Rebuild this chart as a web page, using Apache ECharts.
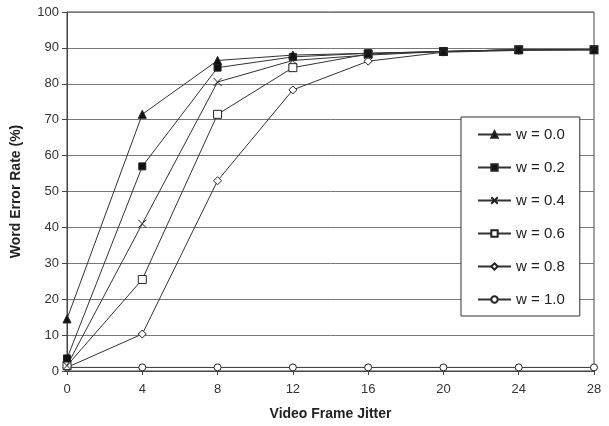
<!DOCTYPE html>
<html><head><meta charset="utf-8">
<script src="https://cdn.jsdelivr.net/npm/echarts@6/dist/echarts.min.js"></script>
<style>html,body{margin:0;padding:0;background:#fff}#c{width:609px;height:426px}</style>
</head><body><div id="c"></div>
<script>
var jitter = [0, 4, 8, 12, 16, 20, 24, 28];
var seriesNames = ['w = 0.0', 'w = 0.2', 'w = 0.4', 'w = 0.6', 'w = 0.8', 'w = 1.0'];
var w00 = [14.5, 71.5, 86.5, 88, 88.5, 89, 89.5, 89.5];
var w02 = [3.5, 57, 84.5, 87.5, 88.5, 89, 89.5, 89.5];
var w04 = [1.5, 41, 80.5, 86.5, 88, 89, 89.5, 89.5];
var w06 = [1.5, 25.5, 71.5, 84.5, 88.3, 89, 89.5, 89.5];
var w08 = [1, 10.3, 53, 78.3, 86.3, 88.8, 89.3, 89.5];
var w10 = [1, 1, 1, 1, 1, 1, 1, 1];
var yTicks = [0, 10, 20, 30, 40, 50, 60, 70, 80, 90, 100];

var allData = [w00, w02, w04, w06, w08, w10];
var symbols = ['triangle', 'rect', 'path://M0,0L10,10M10,0L0,10', 'rect', 'diamond', 'circle'];
var sizes = [8, 7, 8, 8, 8, 7];
var fills = ['#111', '#111', '#fff', '#fff', '#fff', '#fff'];

var series = allData.map(function (arr, i) {
  return {
    name: seriesNames[i],
    type: 'line',
    data: arr.map(function (v, j) { return [jitter[j], v]; }),
    symbol: symbols[i],
    symbolSize: sizes[i],
    showAllSymbol: true,
    lineStyle: { color: '#333', width: 1 },
    itemStyle: { color: fills[i], borderColor: '#222', borderWidth: 1 },
    emphasis: { disabled: true },
    animation: false,
    z: 10 - i
  };
});

var chart = echarts.init(document.getElementById('c'));
chart.setOption({
  animation: false,
  backgroundColor: '#fff',
  grid: { left: 67, right: 15, top: 12, bottom: 52, show: true, borderColor: '#444', borderWidth: 1 },
  xAxis: {
    type: 'value', min: 0, max: 28, interval: 4,
    name: 'Video Frame Jitter', nameLocation: 'middle', nameGap: 36,
    nameTextStyle: { fontFamily: 'Liberation Sans, Arial', fontWeight: 'bold', fontSize: 14, color: '#222' },
    axisLine: { lineStyle: { color: '#444', width: 1 } },
    axisTick: { show: true, length: 4, lineStyle: { color: '#444' } },
    axisLabel: { fontFamily: 'Liberation Sans, Arial', fontSize: 13, color: '#333', margin: 12 },
    splitLine: { show: false }
  },
  yAxis: {
    type: 'value', min: yTicks[0], max: yTicks[yTicks.length - 1], interval: 10,
    name: 'Word Error Rate (%)', nameLocation: 'middle', nameGap: 44,
    nameTextStyle: { fontFamily: 'Liberation Sans, Arial', fontWeight: 'bold', fontSize: 14, color: '#222' },
    axisLine: { show: true, lineStyle: { color: '#444', width: 1 } },
    axisTick: { show: true, length: 5, lineStyle: { color: '#444' } },
    axisLabel: { fontFamily: 'Liberation Sans, Arial', fontSize: 13, color: '#333', margin: 8 },
    splitLine: { show: true, lineStyle: { color: '#777', width: 1 } }
  },
  legend: {
    orient: 'vertical', left: 461, top: 117,
    backgroundColor: '#fff', borderColor: '#333', borderWidth: 1,
    padding: [10, 15, 9, 16],
    itemWidth: 33, itemHeight: 8, itemGap: 18,
    textStyle: { fontFamily: 'Liberation Sans, Arial', fontSize: 15, color: '#222' },
    data: seriesNames
  },
  series: series
});
</script></body></html>
